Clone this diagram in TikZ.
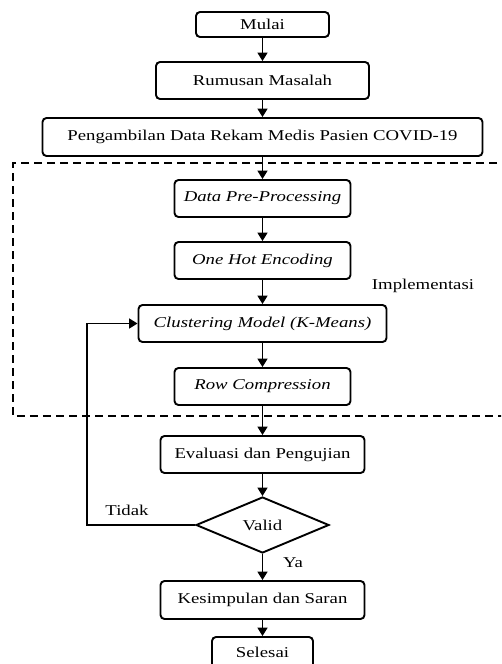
\documentclass[tikz,border=0pt]{standalone}
\usepackage{fontspec}
\setmainfont{Liberation Serif}[FakeStretch=1.25]
\usetikzlibrary{arrows.meta,shapes.geometric}
\tikzset{
  box/.style={draw, line width=1.9pt, rounded corners=4pt, inner sep=0pt, align=center},
  flow/.style={line width=1.7pt, -{Triangle[width=10pt,length=8.5pt]}},
  dbox/.style={line width=1.3pt, dash pattern=on 8pt off 5pt},
  lbl/.style={inner sep=0pt}
}
\begin{document}
\begin{tikzpicture}[x=1pt,y=-1pt,font=\fontsize{15}{18}\selectfont]
\useasboundingbox (0,0) rectangle (501,664);
\clip (0,0) rectangle (501,664);
\node[box, minimum width=133pt, minimum height=25pt] (mulai) at (262.5,24.5) {Mulai};
\node[box, minimum width=213pt, minimum height=37pt] (rumus) at (262.5,80.5) {Rumusan Masalah};
\node[box, minimum width=440pt, minimum height=38pt] (ambil) at (262.5,137) {Pengambilan Data Rekam Medis Pasien COVID-19};
\node[box, minimum width=176pt, minimum height=37pt] (pre) at (262.5,198.5) {\itshape Data Pre-Processing};
\node[box, minimum width=176pt, minimum height=37pt] (ohe) at (262.5,260.5) {\itshape One Hot Encoding};
\node[box, minimum width=248pt, minimum height=37pt] (clus) at (262.5,323.5) {\itshape Clustering Model (K-Means)};
\node[box, minimum width=176pt, minimum height=37pt] (row) at (262.5,386.5) {\itshape Row Compression};
\node[box, minimum width=204pt, minimum height=37pt] (eval) at (262.5,454.5) {Evaluasi dan Pengujian};
\node[draw, line width=1.9pt, diamond, inner sep=0pt, aspect=2.375, minimum width=133pt, minimum height=56pt] (valid) at (262.5,525) {Valid};
\node[box, minimum width=204pt, minimum height=38pt] (kes) at (262.5,600) {Kesimpulan dan Saran};
\node[box, minimum width=101pt, minimum height=37pt] (sel) at (262.5,655.5) {};
\node[lbl] at (262.5,652) {Selesai};
\node[lbl] (impl) at (423,286) {Implementasi};
\node[lbl] (tidak) at (127,510) {Tidak};
\node[lbl] (ya) at (293,563) {Ya};
\coordinate (dtl) at (13,163);
\coordinate (dbl) at (13,416);
\coordinate (dtr) at (510,163);
\coordinate (dbr) at (510,416);
\draw[dbox] (dtr) -- (dtl) -- (dbl) -- (dbr);
\draw[flow] (mulai) -- (rumus);
\draw[flow] (rumus) -- (ambil);
\draw[flow] (ambil) -- (pre);
\draw[flow] (pre) -- (ohe);
\draw[flow] (ohe) -- (clus);
\draw[flow] (clus) -- (row);
\draw[flow] (row) -- (eval);
\draw[flow] (eval) -- (valid);
\draw[flow] (valid) -- (kes);
\draw[flow] (kes) -- (sel);
\coordinate (lb) at (87,525);
\coordinate (lt) at (87,323.5);
\draw[flow] (valid.west) -- (lb) -- (lt) -- (clus.west);
\end{tikzpicture}
\end{document}
